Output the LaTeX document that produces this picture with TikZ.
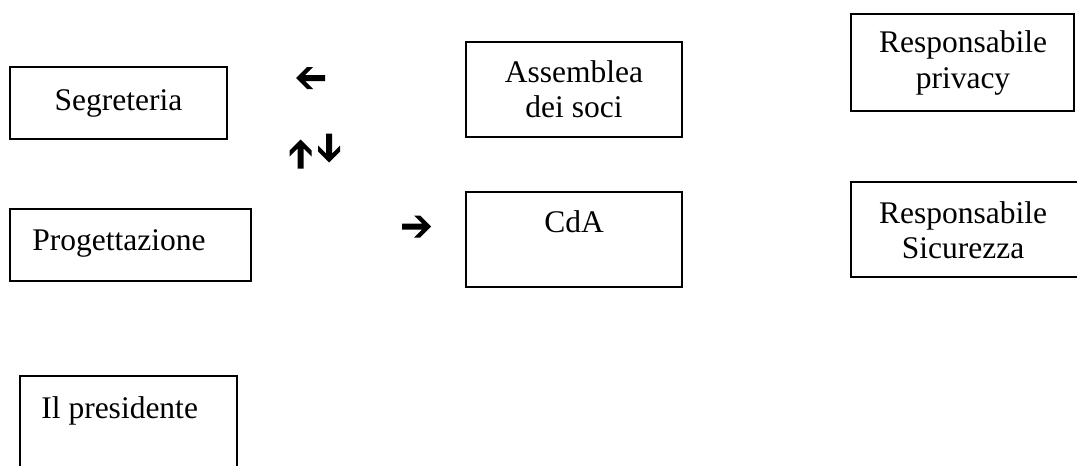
\documentclass[tikz,border=0pt]{standalone}
\usepackage{fontspec}
\setmainfont{Liberation Serif}

\begin{document}
\begin{tikzpicture}[x=0.5pt,y=-0.5pt,
  box/.style={line width=0.8pt},
  txt/.style={font=\fontsize{15.75}{17.5}\selectfont, inner sep=0pt, align=center},
  fat/.style={fill=black, draw=none}]

% Page size
\useasboundingbox (0,0) rectangle (1077,466);
\clip (0,0) rectangle (1077,466);

% Macro for the bold arrows (tip at +14.5)
\newcommand{\fatarrow}[2]{%
  \begin{scope}[shift={(#1)}, rotate=#2]
    \fill[fat] (14.5,0) -- (3.5,-11) -- (-2.5,-11) -- (5.5,-3) -- (-14.5,-3)
      -- (-14.5,3) -- (5.5,3) -- (-2.5,11) -- (3.5,11) -- cycle;
  \end{scope}}

% Boxes
\draw[box] (10,67) rectangle (227,139);
\draw[box] (10,209) rectangle (251,281);
\draw[box] (466,42) rectangle (682,137);
\draw[box] (466,192) rectangle (682,287);
\draw[box] (851,14) rectangle (1074,111);
\draw[box] (851,182) rectangle (1100,277);
\draw[box] (20,376) rectangle (237,500);

% Texts (base = last line)
\node[txt, anchor=base] (segr) at (118.5,110) {Segreteria};
\node[txt, anchor=base west] (prog) at (32,250) {Progettazione};
\node[txt, anchor=base] (assem) at (574,117) {Assemblea\\dei soci};
\node[txt, anchor=base] (cda) at (574,232) {CdA};
\node[txt, anchor=base] (privacy) at (963,88) {Responsabile\\privacy};
\node[txt, anchor=base] (sicur) at (963,258) {Responsabile\\Sicurezza};
\node[txt, anchor=base west] (pres) at (41,418) {Il presidente};

% Arrows
\coordinate (L) at (310.5,78);
\coordinate (U) at (300.5,154);
\coordinate (D) at (329,148);
\coordinate (R) at (416.5,226.5);
\fatarrow{L}{180}
\fatarrow{U}{90}
\fatarrow{D}{-90}
\fatarrow{R}{0}

\end{tikzpicture}
\end{document}
